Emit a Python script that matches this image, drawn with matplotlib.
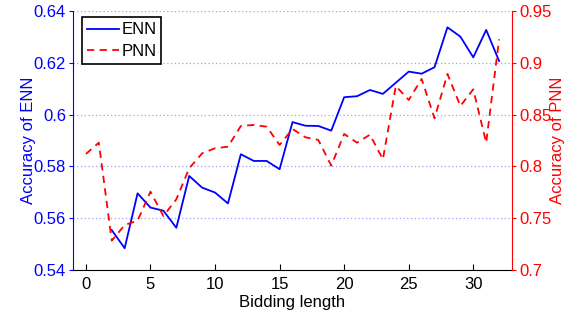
import matplotlib.pyplot as plt
import numpy as np

plt.rcParams['font.family'] = ['Liberation Sans', 'DejaVu Sans']

bid_len_enn = list(range(2, 33))
acc_enn = [0.5554, 0.5484, 0.5696, 0.5641, 0.5629, 0.5563, 0.5763, 0.5718,
           0.5699, 0.5657, 0.5847, 0.5821, 0.5821, 0.5789, 0.5971, 0.5957,
           0.5956, 0.5938, 0.6067, 0.6071, 0.6095, 0.6080, 0.6123, 0.6166,
           0.6158, 0.6183, 0.6337, 0.6301, 0.6221, 0.6327, 0.6207]

bid_len_pnn = list(range(0, 33))
acc_pnn = [0.812, 0.8229, 0.7283, 0.7434, 0.7476, 0.7756, 0.7521, 0.7682,
           0.7982, 0.8126, 0.8175, 0.8190, 0.8390, 0.8400, 0.8383, 0.8207,
           0.8361, 0.8281, 0.8255, 0.8007, 0.8313, 0.8229, 0.8306, 0.8068,
           0.8776, 0.8641, 0.8844, 0.8464, 0.8892, 0.8583, 0.8744, 0.8229,
           0.9227]

fig = plt.figure(figsize=(5.74, 3.18), dpi=100)
ax = fig.add_axes([0.1272, 0.151, 0.7648, 0.8144])
ax2 = ax.twinx()

l1, = ax.plot(bid_len_enn, acc_enn, color="#0000ff", lw=1.3, label="ENN")
l2, = ax2.plot(bid_len_pnn, acc_pnn, color="#ff0000", lw=1.3, ls="--",
               dashes=(4, 3), label="PNN")

ax.set_xlim(-1, 33)
ax.set_ylim(0.54, 0.64)
ax2.set_ylim(0.7, 0.95)
ax.set_xticks([0, 5, 10, 15, 20, 25, 30])
ax.set_yticks([0.54, 0.56, 0.58, 0.6, 0.62, 0.64])
ax.set_yticklabels(["0.54", "0.56", "0.58", "0.6", "0.62", "0.64"])
ax2.set_yticks([0.7, 0.75, 0.8, 0.85, 0.9, 0.95])
ax2.set_yticklabels(["0.7", "0.75", "0.8", "0.85", "0.9", "0.95"])

# dotted horizontal grid, light blue
ax.yaxis.grid(True, ls=(0, (1, 2)), color="#a0a0ff", lw=0.9)
ax.set_axisbelow(True)

for a in (ax, ax2):
    a.spines["top"].set_visible(False)
ax.spines["left"].set_color("#0000ff")
ax2.spines["left"].set_visible(False)
ax.spines["right"].set_visible(False)
ax2.spines["right"].set_color("#ff0000")
ax2.spines["bottom"].set_visible(False)

ax.tick_params(axis="x", direction="in", labelsize=12, colors="black", length=4, pad=5)
ax.tick_params(axis="y", direction="out", labelsize=12, colors="#0000ff", length=3, pad=2)
ax2.tick_params(axis="y", direction="out", labelsize=12, colors="#ff0000", length=3, pad=2)

ax.set_xlabel("Bidding length", fontsize=12, labelpad=2)
ax.set_ylabel("Accuracy of ENN", fontsize=12, color="#0000ff", labelpad=-2)
ax2.set_ylabel("Accuracy of PNN", fontsize=12, color="#ff0000", labelpad=-1)

leg = ax.legend(handles=[l1, l2], loc="upper left", bbox_to_anchor=(0.0205, 0.975),
                fontsize=12, fancybox=False, framealpha=1, edgecolor="black",
                handlelength=1.9, borderpad=0.3, labelspacing=0.4,
                handletextpad=0.15, borderaxespad=0)
leg.get_frame().set_linewidth(1.2)

plt.savefig("out.png", dpi=100)
